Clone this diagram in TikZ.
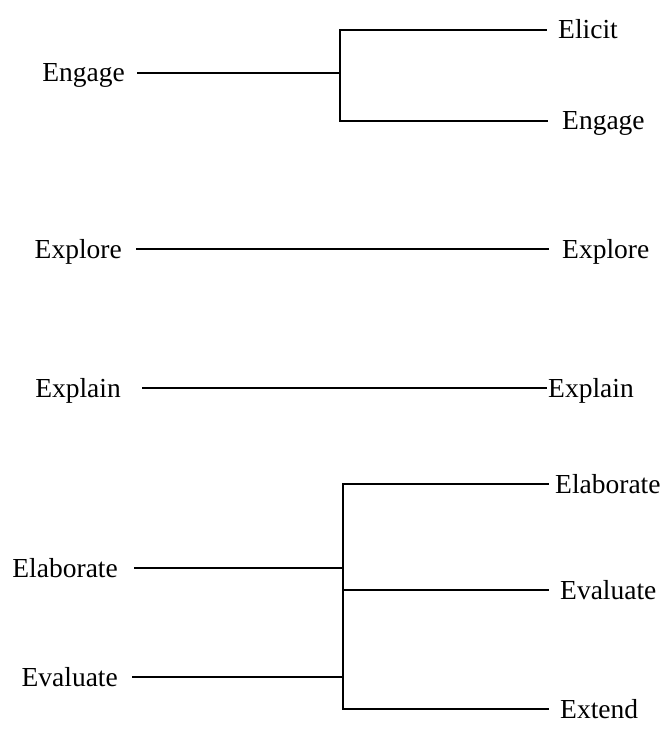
\documentclass[tikz,border=0pt]{standalone}
\usepackage{fontspec}
\setmainfont{Liberation Serif}
\begin{document}
\begin{tikzpicture}[x=1pt,y=-1pt,
  lbl/.style={font=\fontsize{27.5}{27.5}\selectfont, inner ysep=0pt, text height=18pt, text depth=0pt},
  lft/.style={lbl, anchor=east, inner xsep=14pt},
  rgt/.style={lbl, anchor=west, inner xsep=12pt},
  ln/.style={line width=1.7pt, line cap=rect}]
\useasboundingbox (0,0) rectangle (671,741);
% top group
\coordinate (j1) at (340,73);
\coordinate (t1) at (340,30);
\coordinate (b1) at (340,121);
\node[lft, inner xsep=13pt] (LEngage) at (138,73) {Engage};
\node[rgt] (RElicit) at (546,30) {Elicit};
\node[rgt, inner xsep=15pt] (REngage) at (547,121) {Engage};
\draw[ln] (LEngage.east) -- (j1);
\draw[ln] (t1) -- (b1);
\draw[ln] (t1) -- (RElicit.west);
\draw[ln] (b1) -- (REngage.west);
% explore
\node[lft, inner xsep=15pt] (LExplore) at (137,249) {Explore};
\node[rgt, inner xsep=14pt] (RExplore) at (548,249) {Explore};
\draw[ln] (LExplore.east) -- (RExplore.west);
% explain
\node[lft, inner xsep=22pt] (LExplain) at (143,388) {Explain};
\node[rgt, inner xsep=2pt] (RExplain) at (546,388) {Explain};
\draw[ln] (LExplain.east) -- (RExplain.west);
% bottom group
\coordinate (t2) at (343,484);
\coordinate (m2) at (343,590);
\coordinate (b2) at (343,709);
\coordinate (j2a) at (343,568);
\coordinate (j2b) at (343,677);
\node[lft, inner xsep=17pt] (LElab) at (135,568) {Elaborate};
\node[lft, inner xsep=15pt] (LEval) at (133,677) {Evaluate};
\node[rgt, inner xsep=7pt] (RElab) at (548,484) {Elaborate};
\node[rgt] (REval) at (548,590) {Evaluate};
\node[rgt] (RExt) at (548,709) {Extend};
\draw[ln] (LElab.east) -- (j2a);
\draw[ln] (LEval.east) -- (j2b);
\draw[ln] (t2) -- (b2);
\draw[ln] (t2) -- (RElab.west);
\draw[ln] (m2) -- (REval.west);
\draw[ln] (b2) -- (RExt.west);
\end{tikzpicture}
\end{document}
